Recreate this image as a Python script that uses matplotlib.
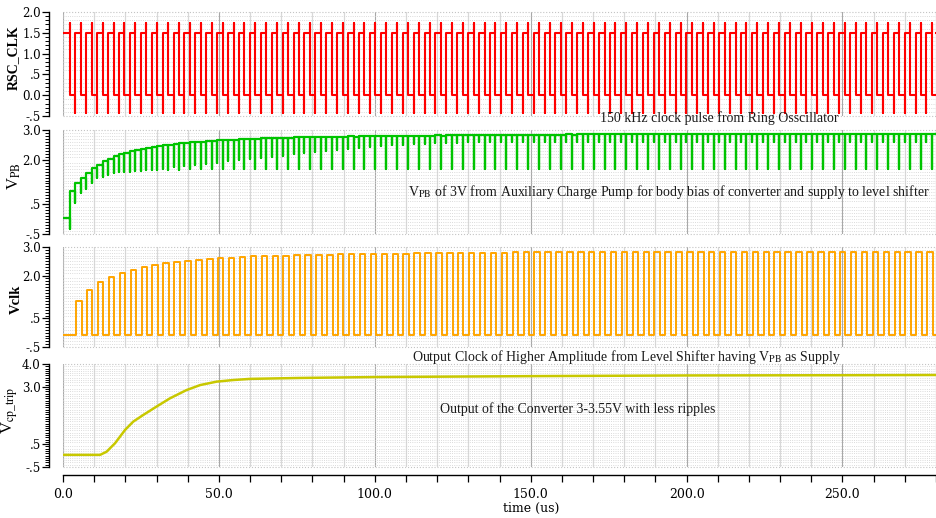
import matplotlib
matplotlib.use("Agg")
import matplotlib.pyplot as plt
from matplotlib.patches import Rectangle
from matplotlib.ticker import MultipleLocator, FixedLocator, FixedFormatter, FormatStrFormatter

# time axis (us)
t_end = 280.0
clk_period = 3.5
clk_first_fall = 2.2
clk_rise_delay = 1.75
vclk_delay = 0.25

# ring oscillator clock levels (V)
rsc_high = 1.5
rsc_low = 0.0
rsc_over = 1.73
rsc_under = -0.42

# level shifter output, high level of each pulse (V)
vclk_low = -0.08
vclk_hi = [1.11, 1.50, 1.76, 1.95, 2.10, 2.20, 2.30, 2.37, 2.43, 2.47,
           2.51, 2.55, 2.58, 2.61, 2.63, 2.65, 2.67, 2.68, 2.69, 2.70,
           2.71, 2.72, 2.73, 2.73, 2.74, 2.75, 2.75, 2.76, 2.76, 2.77,
           2.77, 2.78, 2.78, 2.78, 2.79, 2.79, 2.79, 2.80, 2.80, 2.80,
           2.81, 2.81, 2.81, 2.81, 2.82, 2.82, 2.82, 2.82, 2.82, 2.83,
           2.83, 2.83, 2.83, 2.83, 2.83, 2.83, 2.84, 2.84, 2.84, 2.84,
           2.84, 2.84, 2.84, 2.84, 2.84, 2.84, 2.84, 2.84, 2.84, 2.84,
           2.84, 2.84, 2.84, 2.84, 2.84, 2.84, 2.84, 2.84, 2.84, 2.84]

# auxiliary charge pump V_PB, per clock period (V)
vpb_start = 0.03
vpb_level_a = [0.94, 1.40, 1.72, 1.95, 2.11, 2.24, 2.34, 2.40, 2.46, 2.51,
               2.55, 2.58, 2.61, 2.64, 2.66, 2.68, 2.70, 2.71, 2.72, 2.73,
               2.74, 2.75, 2.76, 2.76, 2.77, 2.78, 2.78, 2.79, 2.79, 2.80,
               2.80, 2.80, 2.81, 2.81, 2.81, 2.82, 2.82, 2.82, 2.83, 2.83,
               2.83, 2.83, 2.84, 2.84, 2.84, 2.84, 2.84, 2.85, 2.85, 2.85,
               2.85, 2.85, 2.85, 2.85, 2.85, 2.86, 2.86, 2.86, 2.86, 2.86,
               2.86, 2.86, 2.86, 2.86, 2.86, 2.86, 2.86, 2.86, 2.86, 2.86,
               2.86, 2.86, 2.86, 2.86, 2.86, 2.86, 2.86, 2.86, 2.86, 2.86]
vpb_level_b = [1.20, 1.56, 1.83, 2.04, 2.18, 2.29, 2.37, 2.44, 2.49, 2.53,
               2.57, 2.60, 2.63, 2.65, 2.67, 2.69, 2.71, 2.72, 2.73, 2.74,
               2.75, 2.76, 2.77, 2.77, 2.78, 2.79, 2.79, 2.80, 2.80, 2.80,
               2.81, 2.81, 2.81, 2.82, 2.82, 2.82, 2.83, 2.83, 2.83, 2.83,
               2.84, 2.84, 2.84, 2.84, 2.84, 2.85, 2.85, 2.85, 2.85, 2.85,
               2.85, 2.85, 2.85, 2.85, 2.86, 2.86, 2.86, 2.86, 2.86, 2.86,
               2.86, 2.86, 2.86, 2.86, 2.86, 2.86, 2.86, 2.86, 2.86, 2.86,
               2.86, 2.86, 2.86, 2.86, 2.86, 2.86, 2.86, 2.86, 2.86, 2.86]
vpb_dip_a = [-0.34, 0.87, 1.23, 1.42, 1.54, 1.59, 1.62, 1.64, 1.65, 1.66,
             1.67, 1.68, 1.68, 1.69, 1.70, 1.70, 1.70, 1.70, 1.70, 1.70,
             1.70, 1.70, 1.70, 1.70, 1.70, 1.70, 1.70, 1.70, 1.70, 1.70,
             1.70, 1.70, 1.70, 1.70, 1.70, 1.70, 1.70, 1.70, 1.70, 1.70,
             1.70, 1.70, 1.70, 1.70, 1.70, 1.70, 1.70, 1.70, 1.70, 1.70,
             1.70, 1.70, 1.70, 1.70, 1.70, 1.70, 1.70, 1.70, 1.70, 1.70,
             1.70, 1.70, 1.70, 1.70, 1.70, 1.70, 1.70, 1.70, 1.70, 1.70,
             1.70, 1.70, 1.70, 1.70, 1.70, 1.70, 1.70, 1.70, 1.70, 1.70]
vpb_dip_b = [0.55, 1.03, 1.37, 1.48, 1.57, 1.60, 1.63, 1.66, 1.70, 1.74,
             1.78, 1.82, 1.86, 1.90, 1.94, 1.98, 2.02, 2.06, 2.10, 2.14,
             2.18, 2.22, 2.26, 2.30, 2.34, 2.37, 2.40, 2.43, 2.46, 2.48,
             2.50, 2.52, 2.54, 2.55, 2.56, 2.57, 2.58, 2.58, 2.59, 2.59,
             2.60, 2.60, 2.60, 2.60, 2.60, 2.60, 2.60, 2.60, 2.60, 2.60,
             2.60, 2.60, 2.60, 2.60, 2.60, 2.60, 2.60, 2.60, 2.60, 2.60,
             2.60, 2.60, 2.60, 2.60, 2.60, 2.60, 2.60, 2.60, 2.60, 2.60,
             2.60, 2.60, 2.60, 2.60, 2.60, 2.60, 2.60, 2.60, 2.60, 2.60]

# converter output V_cp_trip
vcp_t = [0.0, 11.9, 14.0, 16.7, 19.9, 22.5, 25.7, 30.0, 34.3, 39.6, 44.0,
         49.3, 54.6, 60.0, 76.0, 100.0, 150.0, 200.0, 250.0, 280.0]
vcp_v = [0.03, 0.03, 0.17, 0.54, 1.12, 1.48, 1.77, 2.14, 2.50, 2.86, 3.08,
         3.23, 3.30, 3.35, 3.39, 3.43, 3.47, 3.50, 3.51, 3.52]

n_periods = len(vclk_hi)
fall_t = [clk_first_fall + k * clk_period for k in range(n_periods)]
rise_t = [f + clk_rise_delay for f in fall_t]

# RSC_CLK vertices
rsc_x, rsc_y = [0.0], [rsc_high]
for f, r in zip(fall_t, rise_t):
    rsc_x += [f, f, f, r, r, r]
    rsc_y += [rsc_high, rsc_over, rsc_low, rsc_low, rsc_under, rsc_high]
rsc_x.append(t_end)
rsc_y.append(rsc_y[-1])

# V_PB vertices
vpb_x, vpb_y = [0.0], [vpb_start]
for k in range(n_periods):
    f, r = fall_t[k], rise_t[k]
    vpb_x += [f, f, f, r, r, r]
    vpb_y += [vpb_y[-1], vpb_dip_a[k], vpb_level_a[k],
              vpb_level_a[k], vpb_dip_b[k], vpb_level_b[k]]
vpb_x.append(t_end)
vpb_y.append(vpb_y[-1])

# Vclk vertices
vclk_x, vclk_y = [0.0], [vclk_low]
for k in range(n_periods):
    up = rise_t[k] + vclk_delay
    down = up + clk_period - clk_rise_delay
    vclk_x += [up, up, down, down]
    vclk_y += [vclk_low, vclk_hi[k], vclk_hi[k], vclk_low]
vclk_x.append(t_end)
vclk_y.append(vclk_low)

plt.rcParams["mathtext.fontset"] = "stix"
W, H = 936, 518
fig = plt.figure(figsize=(W / 100, H / 100), dpi=100)
fig.patch.set_facecolor("white")


def px_axes(left, top, right, bottom):
    return fig.add_axes([left / W, 1 - bottom / H, (right - left) / W, (bottom - top) / H])


def style_axes(ax, ylim, yticks, ylabels, bottom_axis=False):
    ax.set_xlim(0, t_end)
    ax.set_ylim(*ylim)
    for s in ["top", "right"]:
        ax.spines[s].set_visible(False)
    ax.spines["left"].set_position(("outward", 10))
    ax.spines["left"].set_linewidth(1.0)
    ax.yaxis.set_major_locator(FixedLocator(yticks))
    ax.yaxis.set_major_formatter(FixedFormatter(ylabels))
    ax.yaxis.set_minor_locator(MultipleLocator(0.1))
    ax.tick_params(axis="y", which="major", direction="out", length=5, width=0.9, pad=1)
    ax.tick_params(axis="y", which="minor", direction="out", length=3, width=0.7)
    ax.xaxis.set_major_locator(MultipleLocator(50))
    ax.xaxis.set_minor_locator(MultipleLocator(10))
    ax.grid(which="major", axis="x", color="#a8a8a8", lw=0.8)
    ax.grid(which="minor", axis="x", color="#d8d8d8", lw=0.9)
    ax.grid(which="minor", axis="y", color="#cfcfcf", lw=0.6, ls=":")
    ax.set_axisbelow(True)
    ax.add_patch(Rectangle((0, 0), 1, 1, transform=ax.transAxes, fill=False,
                           ec="#c4c4c4", lw=0.8, ls=":", clip_on=False))
    for lab in ax.get_yticklabels():
        lab.set_fontfamily("DejaVu Serif")
        lab.set_fontsize(8.5)
    if bottom_axis:
        ax.spines["bottom"].set_position(("outward", 6))
        ax.spines["bottom"].set_linewidth(1.0)
        ax.xaxis.set_major_formatter(FormatStrFormatter("%.1f"))
        ax.tick_params(axis="x", which="both", direction="out", length=5, width=0.9, pad=4)
        for lab in ax.get_xticklabels():
            lab.set_fontfamily("DejaVu Serif")
            lab.set_fontsize(9)
    else:
        ax.spines["bottom"].set_visible(False)
        ax.tick_params(axis="x", which="both", length=0, labelbottom=False)


ax1 = px_axes(63, 12, 936, 116)
ax2 = px_axes(63, 130, 936, 234)
ax3 = px_axes(63, 247, 936, 347)
ax4 = px_axes(63, 364, 936, 467)

style_axes(ax1, (-0.5, 2.0), [-0.5, 0.0, 0.5, 1.0, 1.5, 2.0], ["-.5", "0.0", ".5", "1.0", "1.5", "2.0"])
style_axes(ax2, (-0.5, 3.0), [-0.5, 0.5, 2.0, 3.0], ["-.5", ".5", "2.0", "3.0"])
style_axes(ax3, (-0.5, 3.0), [-0.5, 0.5, 2.0, 3.0], ["-.5", ".5", "2.0", "3.0"])
style_axes(ax4, (-0.5, 4.0), [-0.5, 0.5, 3.0, 4.0], ["-.5", ".5", "3.0", "4.0"], bottom_axis=True)

ax1.plot(rsc_x, rsc_y, color="#ff0000", lw=1.5, zorder=3)
ax2.plot(vpb_x, vpb_y, color="#00c400", lw=1.6, zorder=3)
ax3.plot(vclk_x, vclk_y, color="#ffa500", lw=1.4, zorder=3)
ax4.plot(vcp_t, vcp_v, color="#c8c800", lw=1.8, zorder=3)

serif = "Liberation Serif"
ax1.set_ylabel("RSC_CLK", family=serif, weight="bold", fontsize=10)
ax2.set_ylabel(r"V$_{\mathrm{PB}}$", family=serif, fontsize=12)
ax3.set_ylabel("Vclk", family=serif, weight="bold", fontsize=10.5)
ax4.set_ylabel(r"V$_{\mathrm{cp\_trip}}$", family=serif, fontsize=12)
ax1.yaxis.set_label_coords(-0.049, 0.56)
ax2.yaxis.set_label_coords(-0.046, 0.56)
ax3.yaxis.set_label_coords(-0.046, 0.48)
ax4.yaxis.set_label_coords(-0.049, 0.55)

txt = dict(family=serif, fontsize=10, color="#1a1a1a", va="center")
fig.text(600 / W, 1 - 118 / H, "150 kHz clock pulse from Ring Osscillator", ha="left", **txt)
fig.text(930 / W, 1 - 192 / H,
         r"V$_{\mathrm{PB}}$ of 3V from Auxiliary Charge Pump for body bias of converter and supply to level shifter",
         ha="right", **txt)
fig.text(412 / W, 1 - 357 / H,
         r"Output Clock of Higher Amplitude from Level Shifter having V$_{\mathrm{PB}}$ as Supply",
         ha="left", **txt)
fig.text(440 / W, 1 - 409 / H, "Output of the Converter 3-3.55V with less ripples", ha="left", **txt)
fig.text(503 / W, 1 - 508 / H, "time (us)", ha="left", va="center", family="DejaVu Serif", fontsize=9)

fig.savefig("out.png", dpi=100)
